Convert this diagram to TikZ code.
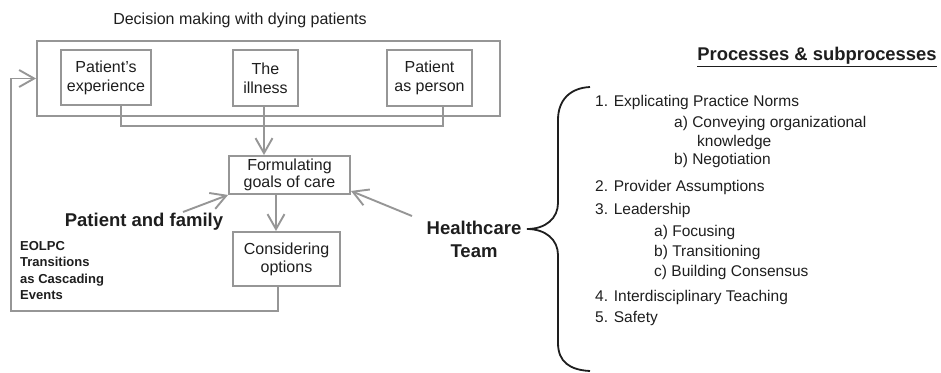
\documentclass[tikz,border=0pt]{standalone}
\usepackage{fontspec}
\setmainfont{Liberation Sans}
\usetikzlibrary{arrows.meta}
\definecolor{lc}{RGB}{150,150,150}
\definecolor{tc}{RGB}{30,30,30}
\begin{document}
\begin{tikzpicture}[x=1pt,y=-1pt,
  box/.style={draw=lc,line width=1.9pt,align=center,inner sep=0pt,text=tc,font=\fontsize{16}{19}\selectfont},
  conn/.style={draw=lc,line width=1.9pt},
  arr/.style={conn,-{Straight Barb[length=15pt,width=17pt,line width=1.9pt]}},
  lbl/.style={text=tc,inner sep=0pt},
  item/.style={text=tc,inner sep=0pt,anchor=base west,font=\fontsize{15.5}{18}\selectfont},
  brace/.style={draw=tc,line width=1.8pt}]
\useasboundingbox (0,0) rectangle (941,372);

% title
\node[lbl,font=\fontsize{16}{19}\selectfont] (title) at (240,20) {Decision making with dying patients};

% boxes
\node[box,minimum width=463pt,minimum height=75pt] (outer) at (268.5,78.5) {};
\node[box,minimum width=90pt,minimum height=55pt] (pexp) at (106,77.5) {Patient’s\\experience};
\node[box,minimum width=65pt,minimum height=56pt] (ill) at (265.5,78) {The\\illness};
\node[box,minimum width=85pt,minimum height=56pt] (pper) at (429.5,78) {Patient\\as person};
\node[box,minimum width=121pt,minimum height=38pt,font=\fontsize{16}{17.5}\selectfont] (form) at (289.5,175) {Formulating\\goals of care};
\node[box,minimum width=107pt,minimum height=54pt,font=\fontsize{16}{18}\selectfont] (cons) at (286.5,259) {Considering\\options};

% labels
\node[lbl,font=\fontsize{18.5}{22}\selectfont\bfseries] (pf) at (144,222) {Patient and family};
\node[lbl,align=center,font=\fontsize{18.5}{23}\selectfont\bfseries] (hc) at (474,239) {Healthcare\\Team};
\node[lbl,align=left,anchor=north west,font=\fontsize{13}{16.5}\selectfont\bfseries] (eol) at (20,241) {EOLPC\\Transitions\\as Cascading\\Events};

% connector coordinates
\coordinate (j1) at (121,126);
\coordinate (j2) at (443,126);
\coordinate (vx) at (264,0);
\coordinate (fx) at (276,0);
\coordinate (bx) at (278,0);
\coordinate (b1) at (278,311);
\coordinate (b2) at (11,311);
\coordinate (b3) at (11,78.5);
\coordinate (pfs) at (183,212);
\coordinate (hcs) at (412,216);

% connectors
\draw[conn] (j1 |- pexp.south) -- (j1) -- (j2) -- (j2 |- pper.south);
\draw[arr] (vx |- ill.south) -- (vx |- form.north);
\draw[arr] (fx |- form.south) -- (fx |- cons.north);
\draw[arr] (bx |- cons.south) -- (b1) -- (b2) -- (b3) -- (outer.west |- b3);
\draw[arr] (pfs) -- (form.south west);
\draw[arr] (hcs) -- ([yshift=4pt]form.south east);

% right side
\node[lbl,font=\fontsize{18.4}{22}\selectfont\bfseries] (ph) at (817,57) {\underline{Processes \& subprocesses}};
\coordinate (tip) at (527,229);
\draw[brace] (590,87) .. controls (570,88) and (558,100) .. (558,120) -- (558,203) .. controls (558,218) and (546,229) .. (tip)
  .. controls (546,229) and (558,240) .. (558,255) -- (558,343) .. controls (558,362) and (570,370) .. (590,371);

\node[item] (i1) at (595,106) {1. Explicating Practice Norms};
\node[item] (i1a) at (674,127) {a) Conveying organizational};
\node[item] (i1k) at (697,146) {knowledge};
\node[item] (i1b) at (674,164) {b) Negotiation};
\node[item] (i2) at (595,191) {2. Provider Assumptions};
\node[item] (i3) at (595,214) {3. Leadership};
\node[item] (i3a) at (654,236) {a) Focusing};
\node[item] (i3b) at (654,256) {b) Transitioning};
\node[item] (i3c) at (654,276) {c) Building Consensus};
\node[item] (i4) at (595,301) {4. Interdisciplinary Teaching};
\node[item] (i5) at (595,322) {5. Safety};
\end{tikzpicture}
\end{document}
